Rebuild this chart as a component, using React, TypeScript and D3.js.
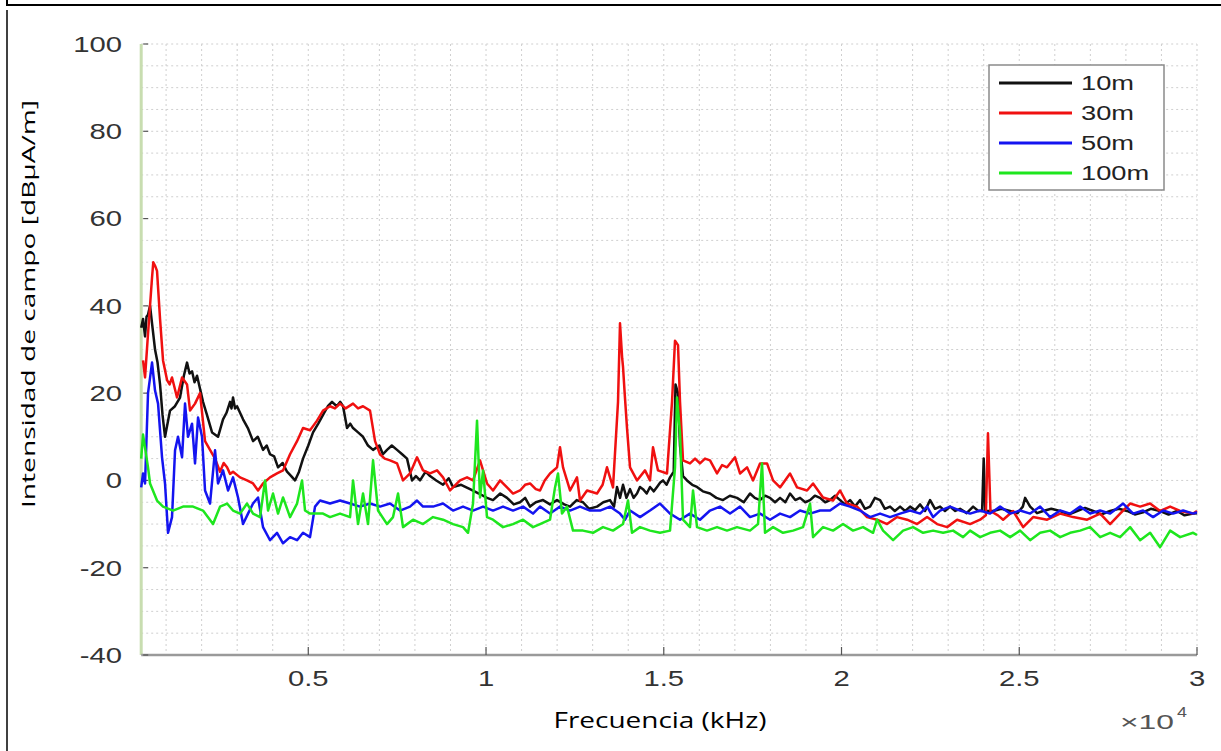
import React from "react";
import * as d3 from "d3";

// Frequency (Hz) / field strength (dBµA/m) pairs
const data10m: [number, number][] = [
  [300, 35], [352, 37], [408, 33], [450, 37.5], [492, 38], [549, 40], [605, 36], [689, 30], [760, 27], [830, 22], [900, 15], [970, 10],
  [1111, 16], [1250, 17], [1392, 19], [1500, 24], [1589, 27], [1660, 24.5], [1730, 25], [1800, 22.5], [1871, 24], [2039, 18], [2150, 15],
  [2293, 11], [2461, 10], [2602, 14], [2700, 15.5], [2799, 18], [2840, 16.5], [2883, 19], [2940, 16.5], [2996, 17], [3165, 14],
  [3300, 12], [3446, 9], [3580, 10], [3727, 7], [3830, 8], [3924, 6], [4040, 5.5], [4149, 3], [4280, 4], [4402, 2], [4520, 1], [4627, 0],
  [4740, 2], [4852, 5], [5000, 8], [5134, 11], [5280, 13], [5415, 15], [5550, 17], [5668, 18], [5800, 17], [5900, 18], [5978, 17],
  [6090, 12], [6180, 13], [6259, 12], [6400, 11], [6540, 10], [6680, 8], [6822, 7], [7000, 8], [7100, 6], [7215, 7], [7350, 8],
  [7497, 7], [7640, 6], [7778, 5], [7919, 0], [8030, 1], [8144, 0], [8300, 2], [8425, 1], [8600, 0], [8791, -1], [8950, 0.5],
  [9072, -1.5], [9300, -1], [9550, -2], [9800, -3], [10028, -4], [10197, -4.5], [10400, -3], [10591, -4], [10780, -5.5],
  [10957, -5], [11100, -4], [11238, -6], [11400, -5], [11603, -4.5], [11800, -5.5], [11997, -4.5], [12200, -5.5], [12363, -6],
  [12550, -4.5], [12728, -5], [12900, -6.5], [13122, -6], [13300, -5], [13488, -4.5], [13600, -6], [13685, -1.5], [13769, -4],
  [13854, -1], [13950, -4], [14051, -2], [14150, -4], [14247, -3], [14330, -1.5], [14416, -2], [14520, -3], [14613, -1.5],
  [14720, -2.5], [14810, -1.5], [14900, -0.5], [14979, 0], [15080, -1], [15176, 0.7], [15280, 2], [15330, 22], [15400, 20],
  [15457, 8], [15541, 1], [15654, 0], [15800, -1], [15935, -1.5], [16100, -2.5], [16301, -3], [16480, -4], [16666, -4.5],
  [16860, -3.5], [17060, -4], [17250, -5], [17426, -3], [17560, -4], [17708, -4.5], [17850, -3.5], [17989, -4], [18130, -5],
  [18271, -4], [18420, -5], [18552, -3], [18700, -4.5], [18833, -4], [18980, -5], [19115, -4.5], [19250, -3.5], [19396, -4],
  [19540, -5], [19677, -4.5], [19820, -3.5], [19959, -4.5], [20100, -5.5], [20240, -4.5], [20380, -6], [20522, -4.5], [20660, -6.5],
  [20803, -6], [20940, -4], [21085, -4.5], [21220, -6.5], [21366, -6], [21500, -7], [21648, -6], [21790, -7], [21929, -6],
  [22070, -6.8], [22211, -5.5], [22350, -7], [22492, -4.5], [22630, -6.5], [22773, -6], [22910, -7], [23055, -6], [23200, -7],
  [23336, -6.5], [23520, -7.5], [23702, -6], [23850, -7], [23955, -7], [24000, 5], [24040, -7], [24264, -7],
  [24500, -6.5], [24743, -7], [24950, -7.5], [25100, -6], [25165, -4], [25306, -6], [25500, -7.5], [25671, -7], [25900, -6.5],
  [26150, -7], [26400, -7.8], [26628, -7], [26850, -6.3], [27078, -7], [27300, -7.8], [27556, -7], [27800, -6.5], [28034, -7],
  [28250, -7.8], [28484, -7.3], [28700, -6.5], [28962, -7], [29200, -7.8], [29441, -7], [29650, -8], [29891, -7.6], [30000, -7.5],
];

const data30m: [number, number][] = [
  [352, 27.5], [408, 23.6], [492, 33.6], [605, 46.5], [640, 50], [700, 49], [745, 48], [830, 37], [914, 27.5], [1027, 23],
  [1100, 22], [1167, 23.6], [1308, 19], [1449, 23.6], [1589, 22], [1674, 16], [1814, 17.6], [1955, 20], [2096, 9], [2236, 7],
  [2377, 5], [2518, 2], [2620, 4], [2715, 3], [2800, 1.5], [2883, 2], [3080, 0.7], [3277, 0], [3446, -0.7], [3587, -2.3],
  [3727, -0.7], [3924, 0.7], [4121, 1.6], [4290, 2.3], [4487, 6], [4684, 9], [4852, 12], [5049, 11.5], [5246, 13.7], [5415, 16],
  [5612, 17], [5750, 16.5], [5893, 17.6], [6050, 16.5], [6259, 17.6], [6400, 16.5], [6540, 17], [6737, 16], [6878, 9], [7018, 6],
  [7150, 5], [7300, 4.6], [7497, 3.9], [7665, 0], [7862, 1.6], [8059, 5.3], [8228, 2.3], [8425, 1.6], [8622, 2.3], [8791, 0.7],
  [8988, -2.3], [9269, 0], [9466, 0.7], [9634, 0], [9831, 4.6], [10028, -0.7], [10197, -2.3], [10394, 0], [10591, -1.6],
  [10760, -3], [10957, -2.3], [11100, -1], [11238, -0.7], [11400, -2], [11519, -2.3], [11650, 0], [11800, 1.6], [11997, 3],
  [12081, 7.6], [12166, 3], [12363, -2.3], [12559, 0.7], [12644, -4.6], [12841, -2.3], [13122, -3], [13280, -1], [13403, 3],
  [13572, -1.6], [13713, 18], [13769, 36], [13830, 28], [13854, 26], [13900, 20], [13966, 12], [14051, 3], [14247, 0],
  [14472, 2.3], [14613, 0], [14697, 7.6], [14838, 2.3], [15091, 1.6], [15232, 18], [15316, 32], [15401, 31], [15457, 18],
  [15541, 4.6], [15738, 3.9], [15880, 5], [16019, 3.9], [16160, 5], [16301, 4.6], [16498, 1.6], [16640, 3.5], [16779, 3],
  [17004, 5.3], [17145, 1.6], [17342, 3], [17511, 0], [17708, 3.9], [17905, 3.9], [18074, 0], [18271, -1.6], [18552, 1.6],
  [18749, -1.6], [19030, -2.3], [19199, -0.7], [19480, -3.9], [19762, -4.6], [19959, -2.3], [20156, -5.3], [20437, -6],
  [20719, -8.4], [21000, -9], [21282, -10], [21563, -8.4], [21845, -9], [22126, -10], [22407, -8.4], [22689, -10], [22970, -10.7],
  [23252, -9], [23617, -10], [23899, -9], [24060, -8], [24120, 10.8], [24190, -7], [24400, -8], [24546, -9],
  [24827, -7], [25109, -10.7], [25390, -8.4], [25784, -9], [26150, -7.6], [26515, -8.4], [26909, -9], [27275, -7.6], [27556, -10],
  [27837, -7.6], [28118, -5.3], [28400, -6], [28681, -5.3], [28962, -7], [29244, -6], [29525, -7], [29891, -7.6], [30000, -7],
];

const data50m: [number, number][] = [
  [300, -1.6], [352, 1.6], [408, -0.7], [492, 20], [605, 27], [689, 20.6], [774, 17.6], [886, 5.3], [970, -0.7], [1055, -12],
  [1167, -8.4], [1252, 6.9], [1336, 10], [1449, 5.3], [1533, 17.6], [1617, 10], [1730, 13], [1814, 3.9], [1899, 14.4], [2011, 10],
  [2096, -2.3], [2236, -5.3], [2377, 6.9], [2461, -0.7], [2602, 2.3], [2743, -2.3], [2883, 0.7], [3024, -3.9], [3165, -10],
  [3305, -7.6], [3446, -5.3], [3587, -3.9], [3727, -10.7], [3924, -13.7], [4121, -12], [4290, -14.4], [4487, -13], [4684, -13.7],
  [4852, -12], [5049, -13], [5190, -6], [5331, -4.6], [5612, -5.3], [5893, -4.6], [6175, -5.3], [6456, -6], [6737, -5.3],
  [7018, -6], [7300, -5.3], [7581, -6.9], [7862, -6], [8059, -4.6], [8228, -6], [8509, -6], [8791, -5.3], [9072, -6.9],
  [9353, -6], [9634, -6.9], [9916, -6], [10197, -6.9], [10478, -6], [10760, -6.9], [11041, -6], [11322, -7.6], [11519, -6],
  [11800, -7.6], [12081, -6], [12363, -6.9], [12644, -6], [12925, -6.9], [13206, -6.9], [13488, -6], [13769, -7.6], [13910, -9],
  [14051, -6.9], [14332, -8.4], [14613, -6.9], [14894, -5.3], [15176, -7.6], [15457, -9], [15738, -7.6], [16019, -9],
  [16301, -6.9], [16582, -6], [16864, -7.6], [17145, -6], [17426, -8.4], [17708, -7.6], [17989, -9], [18271, -7.6], [18552, -8.4],
  [18833, -6.9], [19115, -7.6], [19396, -6.9], [19677, -6.9], [19959, -5.3], [20240, -6], [20522, -6.9], [20803, -8.4],
  [21085, -7.6], [21366, -8.4], [21648, -7.6], [21929, -6.9], [22211, -7.6], [22407, -6], [22576, -8.4], [22773, -6.9],
  [23055, -6], [23336, -6.9], [23617, -7.6], [23899, -6.9], [24180, -7.6], [24461, -6], [24743, -7.6], [25024, -6.9],
  [25306, -7.6], [25587, -6], [25868, -8.4], [26150, -6.9], [26431, -7.6], [26712, -6], [26993, -7.6], [27275, -6.9],
  [27556, -7.6], [27922, -5.3], [28203, -7.6], [28484, -6.9], [28765, -8.4], [29047, -6.9], [29328, -7.6], [29610, -6.9],
  [29891, -7.6], [30000, -7.3],
];

const data100m: [number, number][] = [
  [300, 5], [352, 10.5], [492, 3], [549, -0.7], [745, -4.6], [914, -6], [1195, -6.9], [1477, -6], [1758, -6], [2039, -6.9],
  [2321, -10], [2518, -6], [2715, -5.3], [2883, -6.9], [3080, -7.6], [3277, -5.3], [3446, -7.6], [3643, -8.4], [3784, 0],
  [3868, -6.9], [4008, -3], [4149, -7.6], [4290, -3.9], [4487, -8.4], [4684, -5.3], [4824, 0], [4909, -6.9], [5049, -7.6],
  [5246, -7.6], [5415, -7.6], [5612, -8.4], [5893, -7.6], [6175, -8.4], [6259, 0], [6400, -10], [6540, -3], [6681, -10],
  [6822, 4.6], [6962, -6.9], [7215, -10], [7384, -8.4], [7525, -3], [7665, -10.7], [7947, -9], [8228, -10], [8509, -8.4],
  [8791, -9], [9072, -10], [9353, -10.7], [9494, -12], [9634, -5.3], [9747, 13.7], [9831, -3.9], [9916, 2.3], [10028, -8.4],
  [10197, -9], [10478, -10.7], [10760, -10], [11041, -9], [11322, -10.7], [11519, -10], [11800, -9], [11941, -1.6], [12025, 1.6],
  [12138, -7.6], [12278, -6], [12447, -11.5], [12728, -11.5], [13009, -12], [13291, -10.7], [13572, -11.5], [13854, -10],
  [13994, -4.6], [14107, -12], [14332, -10.7], [14613, -11.5], [14894, -12], [15176, -11.5], [15316, 3], [15373, 19], [15457, 10.8],
  [15541, -9], [15738, -10.7], [15823, -2.3], [15935, -10.7], [16216, -11.5], [16498, -10.7], [16779, -11.5], [17060, -10.7],
  [17426, -11.5], [17652, -10], [17764, 3.9], [17848, -12], [18074, -10.7], [18355, -12], [18636, -11.5], [18918, -10.7],
  [19115, -5.3], [19199, -13], [19480, -10.7], [19762, -11.5], [20043, -10], [20325, -11.5], [20606, -10.7], [20887, -12],
  [21000, -9], [21169, -11.5], [21451, -13.7], [21732, -11.5], [22013, -10.7], [22295, -12], [22576, -11.5], [22858, -12],
  [23139, -11.5], [23420, -13], [23617, -11.5], [23899, -13], [24180, -12], [24461, -11.5], [24743, -13], [25024, -11.5],
  [25306, -13.7], [25587, -12], [25868, -11.5], [26150, -13], [26431, -12], [26712, -11.5], [26993, -10.7], [27275, -13],
  [27556, -12], [27837, -13], [28118, -10.7], [28400, -13.7], [28681, -12], [28962, -15.3], [29244, -11.5], [29525, -13],
  [29891, -12], [30000, -12.5],
];

const seriesNames = ["10m", "30m", "50m", "100m"];
const seriesColors = ["#111111", "#f01010", "#1414f0", "#1ee61e"];
const seriesData = [data10m, data30m, data50m, data100m];

const xTicks = [5000, 10000, 15000, 20000, 25000, 30000];
const xTickLabels = ["0.5", "1", "1.5", "2", "2.5", "3"];
const yTicks = [-40, -20, 0, 20, 40, 60, 80, 100];

const W = 1221;
const H = 751;
const left = 141.2;
const right = 1197;
const top = 44;
const bottom = 655;

export default function App() {
  const x = d3.scaleLinear().domain([300, 30000]).range([left, right]);
  const y = d3.scaleLinear().domain([-40, 100]).range([bottom, top]);
  const line = d3
    .line<[number, number]>()
    .x((d) => x(d[0]))
    .y((d) => y(d[1]));

  const hGrid = d3.range(-35, 101, 5);
  const vGrid = d3.range(1000, 30001, 1000);
  const sx = 1.33;
  const tickFont = "'Liberation Sans', Arial, sans-serif";

  return (
    <svg width={W} height={H} style={{ position: "absolute", left: 0, top: 0, background: "#fff" }}>
      <rect x={0} y={0} width={W} height={H} fill="#fff" />
      {/* frame */}
      <line x1={7} y1={0} x2={7} y2={6} stroke="#000" strokeWidth={2} />
      <line x1={6} y1={5} x2={W} y2={5} stroke="#000" strokeWidth={2} />
      <line x1={7} y1={10} x2={7} y2={H} stroke="#000" strokeWidth={1.5} />

      {/* grid */}
      {hGrid.map((v) => (
        <line key={"h" + v} x1={left} x2={right} y1={y(v)} y2={y(v)} stroke="#cfcfcf" strokeWidth={1} strokeDasharray="2,3" />
      ))}
      {vGrid.map((v) => (
        <line key={"v" + v} x1={x(v)} x2={x(v)} y1={top} y2={bottom} stroke="#cfcfcf" strokeWidth={1} strokeDasharray="2,3" />
      ))}

      {/* axes */}
      <line x1={left} x2={left} y1={top} y2={bottom} stroke="#c8ddb0" strokeWidth={3} />
      <line x1={left} x2={right} y1={bottom} y2={bottom} stroke="#9a9a9a" strokeWidth={2.5} />
      {xTicks.map((t) => (
        <line key={"xt" + t} x1={x(t)} x2={x(t)} y1={bottom} y2={bottom - 8} stroke="#555" strokeWidth={1.2} />
      ))}
      {yTicks.map((t) => (
        <line key={"yt" + t} x1={left + 2} x2={left + 7} y1={y(t)} y2={y(t)} stroke="#555" strokeWidth={1.2} />
      ))}

      {/* series */}
      {seriesData.map((d, i) => (
        <path key={seriesNames[i]} d={line(d) || ""} fill="none" stroke={seriesColors[i]} strokeWidth={2.5} strokeLinejoin="round" />
      ))}

      {/* tick labels */}
      {yTicks.map((t) => (
        <text
          key={"yl" + t}
          transform={`translate(122,${y(t)}) scale(${sx},1)`}
          textAnchor="end"
          dy="0.36em"
          fontFamily={tickFont}
          fontSize={22}
          fill="#333"
        >
          {t}
        </text>
      ))}
      {xTicks.map((t, i) => (
        <text
          key={"xl" + t}
          transform={`translate(${x(t)},678) scale(${sx},1)`}
          textAnchor="middle"
          dy="0.36em"
          fontFamily={tickFont}
          fontSize={22}
          fill="#333"
        >
          {xTickLabels[i]}
        </text>
      ))}
      <text
        x={1120}
        y={729}
        fontFamily={tickFont}
        fontSize={20}
        textLength={54}
        lengthAdjust="spacingAndGlyphs"
        fill="#555"
      >
        ×10
      </text>
      <text x={1177} y={717} fontFamily={tickFont} fontSize={14} textLength={10} lengthAdjust="spacingAndGlyphs" fill="#555">
        4
      </text>

      {/* axis titles */}
      <text
        x={660}
        y={728}
        textAnchor="middle"
        fontFamily="'Open Sans', sans-serif"
        fontSize={21}
        textLength={213}
        lengthAdjust="spacingAndGlyphs"
        fill="#000"
      >
        Frecuencia (kHz)
      </text>
      <text
        transform="translate(35,304) rotate(-90)"
        textAnchor="middle"
        fontFamily="'Open Sans', sans-serif"
        fontSize={19}
        textLength={408}
        lengthAdjust="spacingAndGlyphs"
        fill="#000"
      >
        Intensidad de campo [dBμA/m]
      </text>

      {/* legend */}
      <rect x={989} y={65} width={175} height={125} fill="#fff" stroke="#8a8a8a" strokeWidth={1.5} />
      {seriesNames.map((n, i) => (
        <g key={"lg" + n}>
          <line x1={999} x2={1072} y1={83 + i * 30} y2={83 + i * 30} stroke={seriesColors[i]} strokeWidth={3} />
          <text
            transform={`translate(1081,${83 + i * 30}) scale(${sx},1)`}
            dy="0.36em"
            fontFamily={tickFont}
            fontSize={20.5}
            fill="#222"
          >
            {n}
          </text>
        </g>
      ))}
    </svg>
  );
}
